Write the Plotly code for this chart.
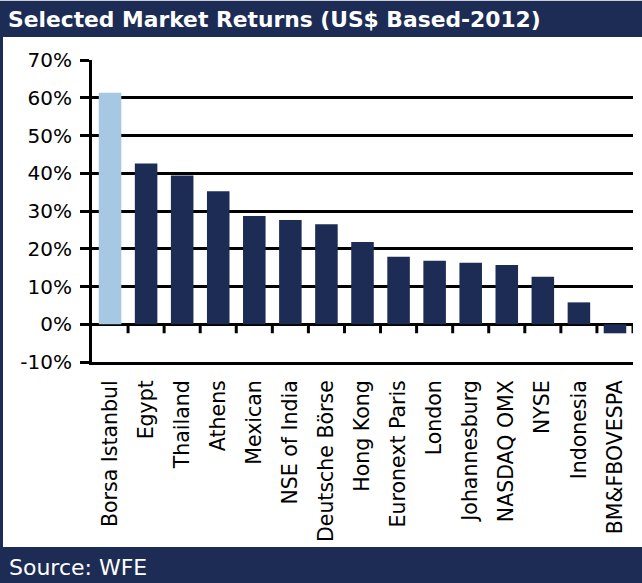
import plotly.graph_objects as go

markets = ["Borsa Istanbul", "Egypt", "Thailand", "Athens", "Mexican", "NSE of India",
           "Deutsche Börse", "Hong Kong", "Euronext Paris", "London", "Johannesburg",
           "NASDAQ OMX", "NYSE", "Indonesia", "BM&FBOVESPA"]
returns_pct = [61.3, 42.6, 39.4, 35.2, 28.7, 27.6, 26.5, 21.8, 17.9, 16.8, 16.3, 15.7, 12.6, 5.8, -2.4]
y_tickvals = [-10, 0, 10, 20, 30, 40, 50, 60, 70]
y_ticktext = ["-10%", "0%", "10%", "20%", "30%", "40%", "50%", "60%", "70%"]
title_text = "Selected Market Returns (US$ Based-2012)"
source_text = "Source: WFE"

NAVY = "#1D2C55"
LIGHT = "#A7C8E3"
FONT = "DejaVu Sans"

W, H = 642, 583
L, R, T, B = 92, 9, 60, 221
PW, PH = W - L - R, H - T - B


def px(p):
    return (p - L) / PW


def py(p):
    return 1 - (p - T) / PH


colors = [LIGHT] + [NAVY] * (len(markets) - 1)

fig = go.Figure()
fig.add_trace(go.Bar(x=markets, y=returns_pct, marker=dict(color=colors, line=dict(width=0)),
                     hoverinfo="x+y"))

shapes = [
    # title band
    dict(type="rect", xref="paper", yref="paper", x0=px(0), x1=px(W), y0=py(37), y1=py(1),
         fillcolor=NAVY, line=dict(width=0), layer="below"),
    # footer band
    dict(type="rect", xref="paper", yref="paper", x0=px(0), x1=px(W), y0=py(H), y1=py(547),
         fillcolor=NAVY, line=dict(width=0), layer="below"),
    # left border
    dict(type="rect", xref="paper", yref="paper", x0=px(0), x1=px(3), y0=py(547), y1=py(37),
         fillcolor=NAVY, line=dict(width=0), layer="below"),
    # top thin grey line
    dict(type="rect", xref="paper", yref="paper", x0=px(0), x1=px(W), y0=py(1), y1=py(0),
         fillcolor="#C8CCD6", line=dict(width=0), layer="below"),
]
# category boundary ticks on the zero line
for i in range(len(markets)):
    shapes.append(dict(type="line", xref="x", yref="y", x0=i + 0.5, x1=i + 0.5,
                       ysizemode="pixel", yanchor=0, y0=0, y1=-9,
                       line=dict(color="black", width=3)))

annotations = [
    dict(text=title_text, xref="paper", yref="paper", x=px(6), y=py(19), xanchor="left",
         yanchor="middle", showarrow=False,
         font=dict(family=FONT, size=21.8, color="white", weight="bold")),
    dict(text=source_text, xref="paper", yref="paper", x=px(7), y=py(567), xanchor="left",
         yanchor="middle", showarrow=False,
         font=dict(family=FONT, size=22, color="white")),
]

fig.update_layout(
    width=W, height=H, autosize=False,
    margin=dict(l=L, r=R, t=T, b=B, pad=0),
    paper_bgcolor="white", plot_bgcolor="white",
    showlegend=False, bargap=0.375,
    shapes=shapes, annotations=annotations,
    font=dict(family=FONT, size=20, color="black"),
    xaxis=dict(type="category", showgrid=False, showline=True, linecolor="black", linewidth=3,
               ticks="", tickangle=-90, tickfont=dict(family=FONT, size=20.5, color="black"),
               ticklabelstandoff=7, range=[-0.5, len(markets) - 0.5]),
    yaxis=dict(range=[-10, 70], tickvals=y_tickvals, ticktext=y_ticktext,
               showgrid=True, gridcolor="black", gridwidth=3,
               zeroline=True, zerolinecolor="black", zerolinewidth=3,
               showline=True, linecolor="black", linewidth=3,
               ticks="outside", ticklen=9, tickwidth=3, tickcolor="black",
               ticklabelstandoff=4,
               tickfont=dict(family=FONT, size=20, color="black")),
)

fig.write_html("out.html", config={"displayModeBar": False},
               post_script="document.body.style.margin='0';document.body.style.padding='0';")
